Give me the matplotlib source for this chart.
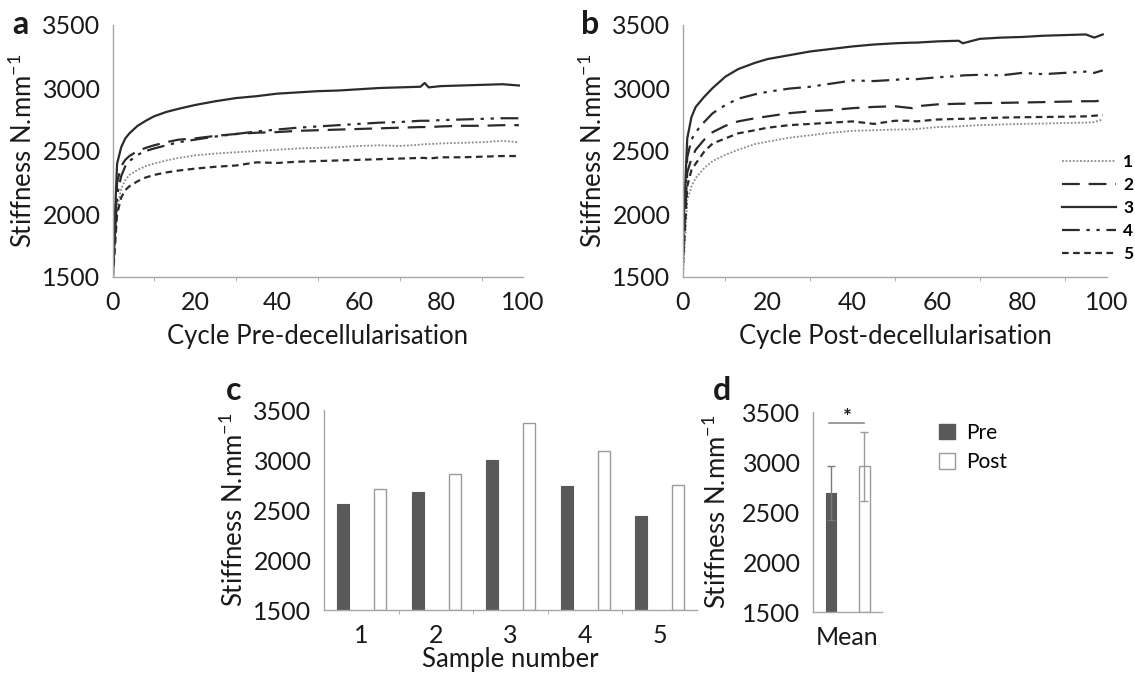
import numpy as np
import matplotlib.pyplot as plt
from matplotlib.patches import Patch
from matplotlib.lines import Line2D

plt.rcParams['font.family'] = ['Lato', 'DejaVu Sans']
plt.rcParams['mathtext.default'] = 'regular'

# ---- panel a: stiffness vs cycle, pre-decellularisation ----
cyc_a = [0, 1, 2, 3, 4, 6, 8, 10, 13, 16, 20, 25, 30, 35, 40, 45, 50, 55, 60,
         65, 70, 75, 76, 77, 80, 85, 90, 95, 99]
pre_s1 = [1500, 2050, 2200, 2270, 2310, 2350, 2380, 2400, 2425, 2445, 2465, 2480, 2490, 2500,
          2510, 2520, 2525, 2530, 2540, 2545, 2540, 2550, 2555, 2555, 2560, 2565, 2570, 2580, 2570]
pre_s2 = [1550, 2250, 2380, 2430, 2460, 2500, 2525, 2545, 2570, 2590, 2600, 2620, 2635, 2645,
          2650, 2660, 2665, 2670, 2675, 2680, 2685, 2690, 2690, 2690, 2695, 2700, 2700, 2705, 2705]
pre_s3 = [1600, 2400, 2530, 2600, 2640, 2700, 2740, 2775, 2810, 2835, 2865, 2895, 2920, 2935,
          2955, 2965, 2975, 2980, 2990, 3000, 3005, 3010, 3040, 3005, 3015, 3020, 3025, 3030, 3020]
pre_s4 = [1550, 2150, 2300, 2380, 2420, 2470, 2500, 2520, 2545, 2570, 2590, 2615, 2635, 2655,
          2670, 2685, 2695, 2705, 2715, 2725, 2730, 2740, 2740, 2740, 2745, 2750, 2755, 2760, 2760]
pre_s5 = [1500, 2000, 2130, 2190, 2220, 2260, 2290, 2310, 2330, 2345, 2360, 2375, 2385, 2410,
          2405, 2415, 2420, 2425, 2430, 2435, 2440, 2445, 2445, 2440, 2450, 2450, 2455, 2460, 2460]

# ---- panel b: stiffness vs cycle, post-decellularisation ----
cyc_b = [0, 1, 2, 3, 5, 7, 10, 13, 17, 20, 25, 30, 35, 40, 45, 50, 54, 55, 60,
         65, 66, 70, 75, 80, 85, 90, 95, 97, 99]
post_s1 = [1500, 2110, 2220, 2285, 2365, 2420, 2470, 2510, 2555, 2575, 2605, 2625, 2645, 2660,
           2665, 2670, 2672, 2675, 2690, 2695, 2698, 2705, 2710, 2715, 2718, 2722, 2725, 2730, 2750]
post_s2 = [1650, 2330, 2440, 2510, 2590, 2650, 2700, 2735, 2760, 2775, 2800, 2815, 2825, 2840,
           2850, 2855, 2840, 2855, 2870, 2875, 2875, 2880, 2882, 2885, 2888, 2892, 2895, 2895, 2900]
post_s3 = [1800, 2600, 2770, 2850, 2930, 3000, 3090, 3150, 3200, 3230, 3260, 3290, 3310, 3330,
           3345, 3355, 3360, 3360, 3370, 3375, 3355, 3390, 3400, 3405, 3415, 3420, 3425, 3400, 3425]
post_s4 = [1700, 2450, 2590, 2650, 2730, 2800, 2865, 2915, 2950, 2970, 2995, 3010, 3035, 3060,
           3055, 3065, 3075, 3070, 3085, 3095, 3100, 3105, 3100, 3120, 3110, 3120, 3130, 3120, 3140]
post_s5 = [1600, 2220, 2350, 2400, 2495, 2560, 2600, 2640, 2665, 2685, 2705, 2715, 2725, 2735,
           2715, 2740, 2740, 2735, 2750, 2755, 2755, 2760, 2765, 2768, 2770, 2772, 2775, 2780, 2785]

# ---- panel c / d: bars ----
samples = ['1', '2', '3', '4', '5']
pre_bar = [2557, 2683, 3000, 2740, 2440]
post_bar = [2713, 2863, 3373, 3093, 2750]
mean_pre, mean_post = 2687, 2957
err_pre, err_post = 270, 345

W, H = 1135, 674
fig = plt.figure(figsize=(W / 100, H / 100), dpi=100)

def box(l, t, r, b):
    return [l / W, 1 - b / H, (r - l) / W, (b - t) / H]

axis_grey = '#a6a6a6'
line_col = '#2b2b2b'
txt = '#1a1a1a'
TICK = 18
LABEL = 18.5

styles = [
    dict(color='#8a8a8a', lw=1.3, linestyle=(0, (1, 1))),
    dict(color=line_col, lw=1.6, linestyle=(0, (8, 4))),
    dict(color=line_col, lw=1.6, linestyle='-'),
    dict(color=line_col, lw=1.6, linestyle=(0, (8, 3, 1.5, 3, 1.5, 3))),
    dict(color=line_col, lw=1.6, linestyle=(0, (3, 2))),
]


def style_axes(ax, ylpad=4):
    for s in ['top', 'right']:
        ax.spines[s].set_visible(False)
    for s in ['left', 'bottom']:
        ax.spines[s].set_color(axis_grey)
        ax.spines[s].set_linewidth(1.0)
    ax.tick_params(colors=axis_grey, labelcolor=txt, labelsize=TICK, length=0, pad=9)
    ax.tick_params(axis='x', pad=10)
    ax.set_ylim(1500, 3500)
    ax.set_yticks([1500, 2000, 2500, 3000, 3500])
    ax.set_ylabel('Stiffness N.mm$^{-1}$', fontsize=LABEL, color=txt, labelpad=ylpad)


def letter(xp, yp, s):
    fig.text(xp / W, 1 - yp / H, s, fontsize=23, fontweight='bold',
             va='center', ha='left', color=txt)


def line_panel(rect, cyc, series, xlabel):
    ax = fig.add_axes(box(*rect))
    for ys, st in zip(series, styles):
        ax.plot(cyc, ys, **st)
    style_axes(ax)
    ax.set_xlim(0, 100)
    ax.set_xticks([0, 20, 40, 60, 80, 100])
    ax.set_xticks([10, 30, 50, 70, 90], minor=True)
    ax.tick_params(axis='x', which='minor', length=3, color=axis_grey, direction='out')
    ax.set_xlabel(xlabel, fontsize=LABEL, color=txt, labelpad=7)
    return ax


line_panel((113, 25, 523, 277), cyc_a, [pre_s1, pre_s2, pre_s3, pre_s4, pre_s5],
           'Cycle Pre-decellularisation')
axb = line_panel((683, 25, 1107, 277), cyc_b, [post_s1, post_s2, post_s3, post_s4, post_s5],
                 'Cycle Post-decellularisation')
letter(12, 24, 'a')
letter(581, 24, 'b')

handles = [Line2D([], [], **st) for st in styles]
fig.legend(handles, samples, loc='center left', bbox_to_anchor=(1053 / W, 1 - 208 / H),
           frameon=False, borderpad=0, handlelength=3.1, handletextpad=0.45, labelspacing=0.4,
           prop={'size': 12.5, 'weight': 'bold'})

# ---- panel c ----
axc = fig.add_axes(box(324, 410, 697, 610))
x = np.arange(1, 6)
bw = 0.16
axc.bar(x - 0.245, np.array(pre_bar) - 1500, bw, bottom=1500, color='#595959', edgecolor='#595959', lw=0.8)
axc.bar(x + 0.25, np.array(post_bar) - 1500, bw, bottom=1500, color='white', edgecolor='#9a9a9a', lw=1.0)
style_axes(axc)
axc.set_xlim(0.5, 5.5)
axc.set_xticks(x)
axc.set_xticklabels(samples)
axc.set_xticks([1.5, 2.5, 3.5, 4.5], minor=True)
axc.tick_params(axis='x', which='minor', length=3, color=axis_grey, direction='out')
axc.set_xlabel('Sample number', fontsize=LABEL, color=txt, labelpad=0)
letter(226, 390, 'c')

# ---- panel d ----
axd = fig.add_axes(box(813, 412, 882, 612))
axd.bar([-0.24], [mean_pre - 1500], 0.15, bottom=1500, color='#595959', edgecolor='#595959', lw=0.8,
        yerr=[err_pre], error_kw=dict(ecolor='#7a7a7a', elinewidth=1, capsize=3, capthick=1))
axd.bar([0.245], [mean_post - 1500], 0.15, bottom=1500, color='white', edgecolor='#9a9a9a', lw=1.0,
        yerr=[err_post], error_kw=dict(ecolor='#9a9a9a', elinewidth=1, capsize=3, capthick=1))
style_axes(axd, ylpad=8)
axd.set_xlim(-0.5, 0.5)
axd.set_xticks([0])
axd.set_xticklabels(['Mean'])
axd.plot([-0.27, 0.24], [3390, 3390], color='#8a8a8a', lw=1.2)
axd.text(0, 3445, '*', ha='center', va='center', fontsize=15, fontweight='bold', color=txt)
letter(713, 390, 'd')

fig.legend([Patch(facecolor='#595959', edgecolor='#595959'),
            Patch(facecolor='white', edgecolor='#9a9a9a')], ['Pre', 'Post'],
           loc='upper left', bbox_to_anchor=(920 / W, 1 - 404 / H), frameon=False,
           fontsize=15, handlelength=0.8, handleheight=0.8, handletextpad=0.5, labelspacing=0.45)

fig.savefig('out.png', dpi=100)
